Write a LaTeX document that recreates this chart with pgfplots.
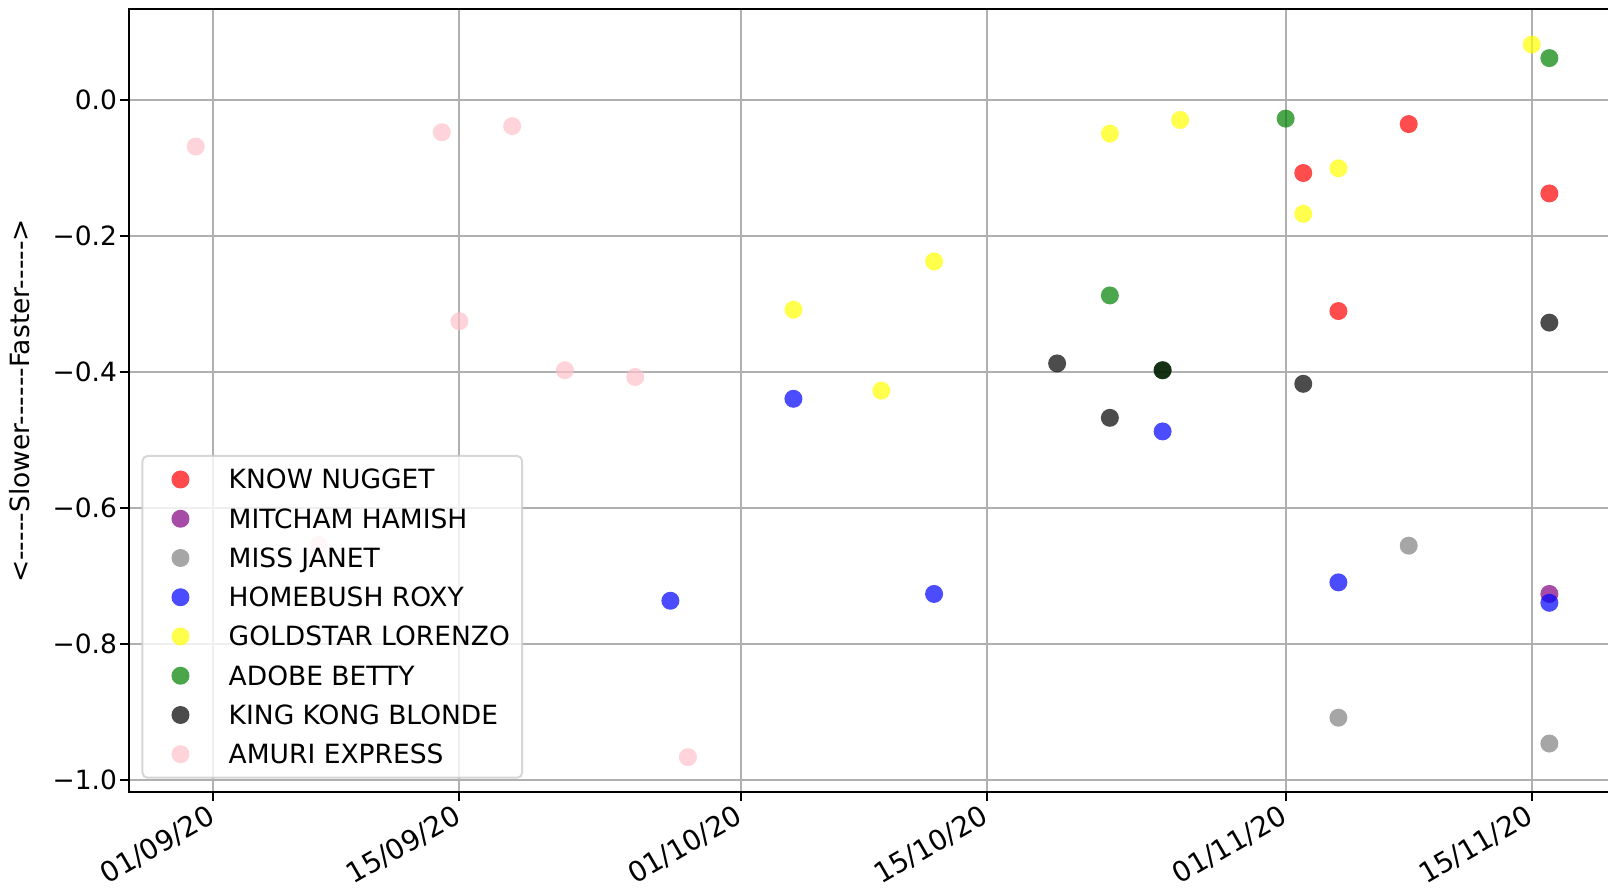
\documentclass[border=0pt]{standalone}
\usepackage{fontspec}
\setmainfont{DejaVu Sans}[Ligatures=TeXOff]
\usepackage{pgfplots}
\pgfplotsset{compat=1.18}
\definecolor{mplred}{RGB}{255,0,0}
\definecolor{mplpurple}{RGB}{128,0,128}
\definecolor{mplgrey}{RGB}{128,128,128}
\definecolor{mplblue}{RGB}{0,0,255}
\definecolor{mplyellow}{RGB}{255,255,0}
\definecolor{mplgreen}{RGB}{0,128,0}
\definecolor{mplblack}{RGB}{0,0,0}
\definecolor{mplpink}{RGB}{255,192,203}
\definecolor{gridgray}{RGB}{176,176,176}
\newcommand\fs{\fontsize{10.6}{12.7}\selectfont}
\newcommand\fx{\fontsize{11.2}{13.4}\selectfont}
\pgfplotsset{pt/.style={only marks, mark=*, mark size=3.6pt, color=#1,
  mark options={fill=#1, fill opacity=0.7, draw opacity=0}}}
\begin{document}
\begin{tikzpicture}
\useasboundingbox (-51.5pt,-39pt) rectangle (591.7pt,317pt);
\begin{axis}[
  at={(0,0)}, anchor=south west,
  scale only axis, width=593pt, height=313.2pt,
  xmin=-4.81, xmax=79.52, ymin=-1.019, ymax=0.1325,
  axis line style={line width=0.8pt, black},
  xtick={0,14,30,44,61,75},
  xticklabels={01/09/20,15/09/20,01/10/20,15/10/20,01/11/20,15/11/20},
  ytick={-1,-0.8,-0.6,-0.4,-0.2,0},
  yticklabels={−1.0,−0.8,−0.6,−0.4,−0.2,0.0},
  xtick pos=left, ytick pos=left,
  tick align=outside, major tick length=3.5pt,
  tick style={line width=0.8pt, black},
  grid=major, grid style={line width=0.8pt, gridgray},
  ticklabel style={font=\fs},
  xticklabel style={font=\fx, xshift=-2.8pt, yshift=-0.8pt, rotate=30, anchor=north east, inner sep=0pt},
  yticklabel style={font=\fs, anchor=east, inner sep=0pt, xshift=-1pt},
  ylabel={<-----Slower------Faster----->},
  ylabel style={at={(axis description cs:-0.07336,0.5)}, anchor=center, font=\fs},
  legend cell align=left,
  legend image code/.code={\path[draw=none,fill=none] (-10.3pt,0pt) -- (3.6pt,0pt); \draw[#1] plot coordinates {(0pt,0pt)};},
  legend style={at={(0,0)}, anchor=south west, xshift=5.1pt, yshift=5.5pt,
    draw=black!20, fill=white, fill opacity=0.8, draw opacity=0.8, text opacity=1,
    rounded corners=2pt, line width=0.8pt, inner xsep=4.9pt, inner ysep=5.6pt,
    row sep=8.1pt, column sep=15.7pt,
    nodes={inner sep=0pt, text height=7.6pt, text depth=0pt},
    font=\fs},
]
\addplot[pt=mplred] coordinates {(62,-0.108) (64,-0.311) (68,-0.036) (76,-0.138)};
\addlegendentry{KNOW NUGGET}
\addplot[pt=mplpurple] coordinates {(76,-0.727)};
\addlegendentry{MITCHAM HAMISH}
\addplot[pt=mplgrey] coordinates {(64,-0.909) (68,-0.656) (76,-0.947)};
\addlegendentry{MISS JANET}
\addplot[pt=mplblue] coordinates {(26,-0.737) (33,-0.44) (41,-0.727) (54,-0.488) (64,-0.71) (76,-0.74)};
\addlegendentry{HOMEBUSH ROXY}
\addplot[pt=mplyellow] coordinates {(33,-0.309) (38,-0.428) (41,-0.238) (51,-0.05) (55,-0.03) (62,-0.168) (64,-0.101) (75,0.081)};
\addlegendentry{GOLDSTAR LORENZO}
\addplot[pt=mplgreen] coordinates {(51,-0.288) (54,-0.398) (61,-0.028) (76,0.061)};
\addlegendentry{ADOBE BETTY}
\addplot[pt=mplblack] coordinates {(48,-0.388) (51,-0.468) (54,-0.398) (62,-0.418) (76,-0.328)};
\addlegendentry{KING KONG BLONDE}
\addplot[pt=mplpink] coordinates {(-1,-0.069) (6,-0.655) (13,-0.048) (14,-0.326) (17,-0.039) (20,-0.398) (24,-0.408) (27,-0.967)};
\addlegendentry{AMURI EXPRESS}
\end{axis}
\end{tikzpicture}
\end{document}
